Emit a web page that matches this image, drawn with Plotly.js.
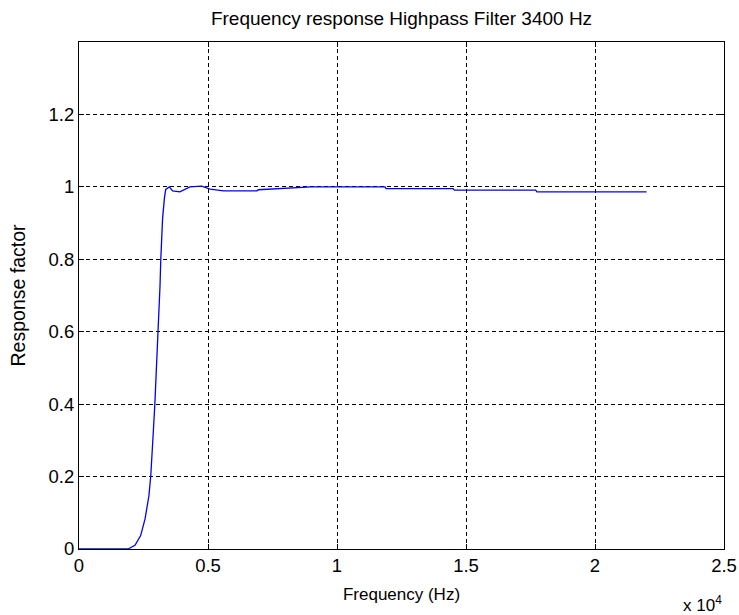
<!DOCTYPE html>
<html>
<head>
<meta charset="utf-8">
<script src="https://cdn.plot.ly/plotly-3.0.1.min.js"></script>
<style>html,body{margin:0;padding:0;background:#fff;}#chart{width:739px;height:615px;}</style>
</head>
<body>
<div id="chart"></div>
<script>
// Frequency in Hz
const freqHz = [0, 1000, 1900, 2170, 2390, 2560, 2710, 2780, 2830, 2880, 2940, 3010, 3080, 3140, 3170, 3240, 3310, 3360, 3500, 3630, 3910, 4300, 4750, 5080, 5600, 6900, 6950, 7800, 8950, 9000, 11860, 11900, 14500, 14550, 17700, 17750, 22000];
// Response factor
const response = [0, 0, 0, 0.01, 0.037, 0.083, 0.147, 0.2, 0.249, 0.323, 0.4, 0.506, 0.6, 0.726, 0.8, 0.913, 0.968, 0.993, 1.0, 0.989, 0.986, 1.0, 1.002, 0.994, 0.989, 0.989, 0.992, 0.995, 0.998, 1.0, 1.0, 0.995, 0.995, 0.991, 0.991, 0.986, 0.986];

const xTickVals = [0, 5000, 10000, 15000, 20000, 25000];
const xTickText = ['0', '0.5', '1', '1.5', '2', '2.5'];
const yTickVals = [0, 0.2, 0.4, 0.6, 0.8, 1, 1.2];
const yTickText = ['0', '0.2', '0.4', '0.6', '0.8', '1', '1.2'];

const fam = 'Liberation Sans, Arial, sans-serif';
const font = {family: fam, size: 17, color: '#000'};
const tickFont = {family: fam, size: 18.5, color: '#000'};
const titleFont = {family: fam, size: 19, color: '#000'};
const yTitleFont = {family: fam, size: 19.5, color: '#000'};

const trace = {
  x: freqHz, y: response, type: 'scatter', mode: 'lines',
  line: {color: '#0000ff', width: 1.3}, hoverinfo: 'skip'
};

const axisCommon = {
  showline: true, mirror: 'ticks', linecolor: '#000', linewidth: 1,
  ticks: 'inside', ticklen: 5, tickcolor: '#000',
  showgrid: true, gridcolor: '#000', gridwidth: 1, griddash: '4px,3px',
  zeroline: false, tickfont: tickFont
};

const layout = {
  width: 739, height: 615,
  margin: {l: 79, r: 15, t: 42, b: 66},
  paper_bgcolor: '#fff', plot_bgcolor: '#fff',
  font: font,
  showlegend: false,
  title: {text: 'Frequency response Highpass Filter 3400 Hz', font: titleFont,
          x: 0.5, xref: 'paper', y: 1 - 18/615, yref: 'container', yanchor: 'middle'},
  xaxis: Object.assign({}, axisCommon, {
    range: [0, 25000], tickvals: xTickVals, ticktext: xTickText,
    title: {text: 'Frequency (Hz)', font: font, standoff: 12}
  }),
  yaxis: Object.assign({}, axisCommon, {
    range: [0, 1.4], tickvals: yTickVals, ticktext: yTickText,
    title: {text: 'Response factor', font: yTitleFont, standoff: 17}
  }),
  annotations: [{
    text: 'x 10<sup>4</sup>', xref: 'paper', yref: 'paper', x: 1, y: 0,
    xanchor: 'right', yanchor: 'top', yshift: -42, showarrow: false, font: font
  }]
};

Plotly.newPlot('chart', [trace], layout, {displayModeBar: false, staticPlot: true});
</script>
</body>
</html>
